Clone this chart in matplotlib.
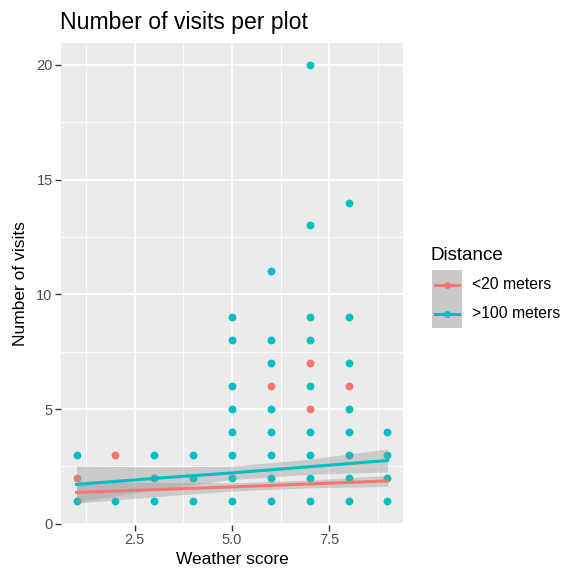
#!/usr/bin/env python3
# -*- coding: utf-8 -*-
"""
Number of visits per plot vs weather score, ggplot-like look with lm smooths.
"""

import numpy as np
import matplotlib
matplotlib.use("Agg")
import matplotlib.pyplot as plt
from matplotlib.patches import Rectangle
from matplotlib.lines import Line2D

plt.rcParams['font.family'] = ['Liberation Sans', 'DejaVu Sans']

# ---- data ----
groups = ["<20 meters", ">100 meters"]
colors = ["#F8766D", "#00BFC4"]

near_x = [1, 2, 6, 7, 7, 8]
near_y = [2, 3, 6, 7, 5, 6]

far_x = [1, 1,
         2,
         3, 3, 3,
         4, 4, 4,
         5, 5, 5, 5, 5, 5, 5, 5,
         6, 6, 6, 6, 6, 6, 6, 6,
         7, 7, 7, 7, 7, 7, 7, 7, 7,
         8, 8, 8, 8, 8, 8, 8, 8,
         9, 9, 9, 9]
far_y = [3, 1,
         1,
         3, 2, 1,
         3, 2, 1,
         9, 8, 6, 5, 4, 3, 2, 1,
         11, 8, 7, 5, 4, 3, 2, 1,
         20, 13, 9, 8, 6, 4, 3, 2, 1,
         14, 9, 7, 5, 4, 3, 2, 1,
         4, 3, 2, 1]

# lm smooth (fit and confidence band) read at a few x positions
smooth_x = [1, 3, 5, 7, 9]
near_fit = [1.37, 1.49, 1.61, 1.74, 1.87]
near_lo  = [0.90, 1.18, 1.43, 1.57, 1.63]
near_hi  = [1.86, 1.80, 1.79, 1.91, 2.11]
far_fit  = [1.72, 1.98, 2.22, 2.49, 2.76]
far_lo   = [0.95, 1.48, 1.93, 2.16, 2.26]
far_hi   = [2.52, 2.48, 2.51, 2.82, 3.26]

x_ticks = [2.5, 5.0, 7.5]
y_ticks = [0, 5, 10, 15, 20]

# ---- figure ----
W, H = 562, 575
fig = plt.figure(figsize=(W / 100, H / 100), dpi=100)
ax = fig.add_axes([61 / W, 1 - 525 / H, (403 - 61) / W, (525 - 43) / H])

ax.set_facecolor("#EBEBEB")
for s in ax.spines.values():
    s.set_visible(False)

ax.set_xlim(0.6, 9.4)
ax.set_ylim(-0.05, 20.95)
ax.set_xticks(x_ticks)
ax.set_xticklabels(["2.5", "5.0", "7.5"])
ax.set_yticks(y_ticks)
ax.set_xticks([1.25, 3.75, 6.25, 8.75], minor=True)
ax.set_yticks([2.5, 7.5, 12.5, 17.5], minor=True)
ax.grid(True, which="major", color="white", lw=1.3)
ax.grid(True, which="minor", color="white", lw=0.6)
ax.set_axisbelow(True)
ax.tick_params(which="major", length=4, width=1, color="#333333",
               labelsize=10.5, labelcolor="#4D4D4D", pad=2)
ax.tick_params(which="minor", length=0)

ax.scatter(far_x, far_y, s=32, color=colors[1], zorder=2, lw=0)
ax.scatter(near_x, near_y, s=32, color=colors[0], zorder=2, lw=0)

ax.fill_between(smooth_x, near_lo, near_hi, color="#999999", alpha=0.4, lw=0, zorder=3)
ax.fill_between(smooth_x, far_lo, far_hi, color="#999999", alpha=0.4, lw=0, zorder=3)
ax.plot(smooth_x, near_fit, color=colors[0], lw=2.2, zorder=4)
ax.plot(smooth_x, far_fit, color=colors[1], lw=2.2, zorder=4)

ax.set_xlabel("Weather score", fontsize=12.5, labelpad=3)
ax.set_ylabel("Number of visits", fontsize=12.5, labelpad=6)

fig.text(60 / W, 1 - 23 / H, "Number of visits per plot", fontsize=16.6,
         ha="left", va="center")

# ---- legend drawn by hand ----
fig.text(431 / W, 1 - 255 / H, "Distance", fontsize=13.5, ha="left", va="center")
key_h = 29
for i, (lab, col) in enumerate(zip(groups, colors)):
    top = 270 + i * key_h
    fig.patches.append(Rectangle((432 / W, 1 - (top + key_h) / H), 30 / W, key_h / H,
                                 transform=fig.transFigure, facecolor="#C9C9C9",
                                 edgecolor="none"))
    yc = 1 - (top + key_h / 2) / H
    fig.lines.append(Line2D([435 / W, 459 / W], [yc, yc], transform=fig.transFigure,
                            color=col, lw=2.2))
    fig.lines.append(Line2D([447 / W], [yc], transform=fig.transFigure, color=col,
                            marker="o", ms=5, mec="none"))
    fig.text(472 / W, yc, lab, fontsize=11.3, ha="left", va="center")

fig.savefig("out.png", dpi=100)
